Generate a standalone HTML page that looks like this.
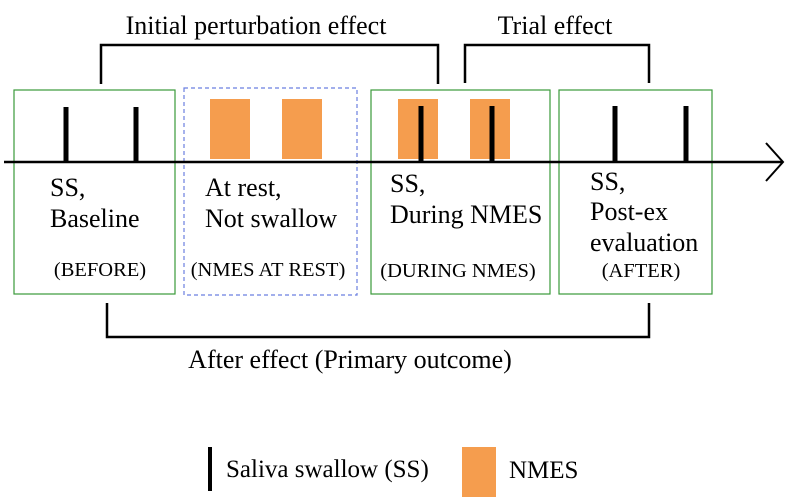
<!DOCTYPE html>
<html><head><meta charset="utf-8"><style>
html,body{margin:0;padding:0;background:#fff;}
svg{display:block;}
text{font-family:"Liberation Serif",serif;fill:#000;}
</style></head><body>
<svg width="788" height="501" viewBox="0 0 788 501">
  <polyline points="101,84 101,45 438,45 438,84" fill="none" stroke="#000" stroke-width="2.5"/>
  <text x="256" y="34" font-size="26" text-anchor="middle">Initial perturbation effect</text>
  <polyline points="465,83 465,45 649,45 649,83" fill="none" stroke="#000" stroke-width="2.5"/>
  <text x="555" y="34" font-size="26" text-anchor="middle">Trial effect</text>

  <rect x="14" y="90" width="161" height="204" fill="none" stroke="#3a9a3a" stroke-width="1.2"/>
  <rect x="184" y="88" width="173" height="207" fill="none" stroke="#6b7fe0" stroke-width="1.2" stroke-dasharray="4,3"/>
  <rect x="371" y="90" width="179" height="204" fill="none" stroke="#3a9a3a" stroke-width="1.2"/>
  <rect x="559" y="90" width="153" height="204" fill="none" stroke="#3a9a3a" stroke-width="1.2"/>

  <rect x="210" y="99" width="40" height="60" fill="#f59d4e"/>
  <rect x="282" y="99" width="40" height="60" fill="#f59d4e"/>
  <rect x="398" y="99" width="40" height="60" fill="#f59d4e"/>
  <rect x="470" y="99" width="40" height="60" fill="#f59d4e"/>

  <line x1="4" y1="162" x2="783" y2="162" stroke="#000" stroke-width="2.5"/>
  <polyline points="766,143 783,162 766,181" fill="none" stroke="#000" stroke-width="2"/>

  <g stroke="#000" stroke-width="5">
    <line x1="66" y1="107" x2="66" y2="161"/>
    <line x1="136" y1="107" x2="136" y2="161"/>
    <line x1="421" y1="106" x2="421" y2="161"/>
    <line x1="492" y1="106" x2="492" y2="161"/>
    <line x1="615" y1="106" x2="615" y2="161"/>
    <line x1="686" y1="106" x2="686" y2="161"/>
  </g>

  <g font-size="26">
    <text x="50" y="196">SS,</text>
    <text x="50" y="227">Baseline</text>
    <text x="205" y="196">At rest,</text>
    <text x="205" y="227">Not swallow</text>
    <text x="390" y="192">SS,</text>
    <text x="390" y="223">During NMES</text>
    <text x="590" y="190">SS,</text>
    <text x="590" y="220">Post-ex</text>
    <text x="590" y="251">evaluation</text>
  </g>
  <g font-size="20.5">
    <text x="100" y="276" text-anchor="middle">(BEFORE)</text>
    <text x="268" y="276" text-anchor="middle">(NMES AT REST)</text>
    <text x="458" y="277" text-anchor="middle">(DURING NMES)</text>
    <text x="641" y="277" text-anchor="middle">(AFTER)</text>
  </g>

  <polyline points="107,303 107,337 649,337 649,303" fill="none" stroke="#000" stroke-width="2.5"/>
  <text x="350" y="368" font-size="26" text-anchor="middle">After effect (Primary outcome)</text>

  <g>
    <rect x="208" y="447" width="4" height="44" fill="#000"/>
    <text x="226" y="477" font-size="25">Saliva swallow (SS)</text>
    <rect x="462" y="447" width="34" height="50" fill="#f59d4e"/>
    <text x="509" y="478" font-size="25">NMES</text>
  </g>
</svg>
</body></html>
